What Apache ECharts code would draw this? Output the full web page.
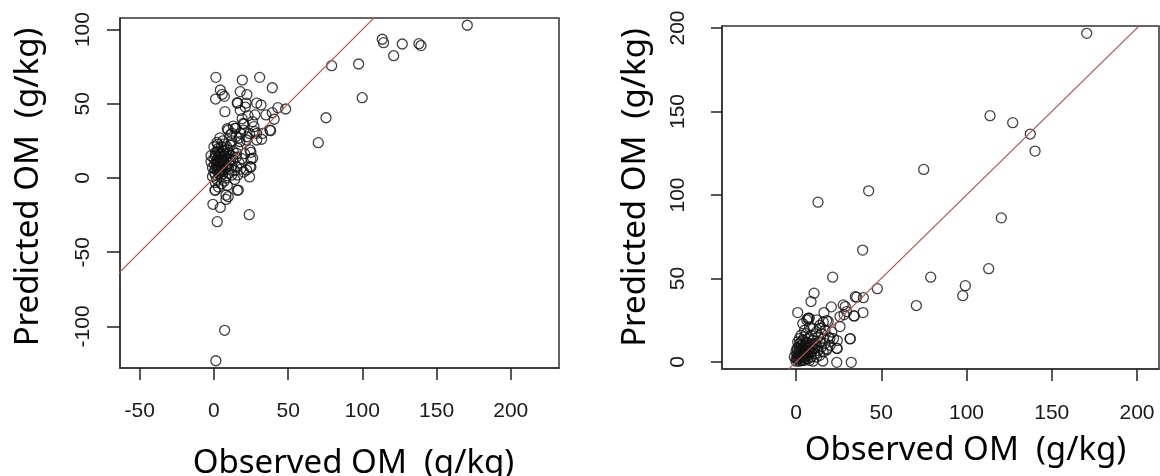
<!DOCTYPE html>
<html>
<head>
<meta charset="utf-8">
<title>Observed vs Predicted OM</title>
<script src="https://cdn.jsdelivr.net/npm/echarts@6/dist/echarts.min.js"></script>
<style>
    html, body { margin: 0; padding: 0; background: #fff; }
    #mychart { width: 1160px; height: 476px; }
</style>
</head>
<body>
<div id="mychart"></div>
<script>
// left panel: observed vs predicted (x, y)
var leftPoints = [
    [170.7,102.9],[113.4,93.5],[114.3,91.2],[126.9,90.3],[138.1,90.5],[139.5,89.2],[121.1,82.4],
    [79.3,75.7],[97.5,76.8],[99.9,54.1],[75.5,40.6],[70.3,23.8],[7.2,-102.6],[1.3,-123.1],
    [23.8,-24.7],[2.2,-29.4],[-0.7,-17.7],[4.3,-19.8],[8.1,-14.4],[8.1,-11.5],[15.7,-8.3],[0.9,-8.3],
    [24,0.7],[24.9,7.4],[24.9,12.8],[24.9,17.3],[20.7,16.4],[1.3,67.8],[19.1,66],[30.8,67.8],
    [39.3,60.8],[4.3,59.3],[1.1,53.2],[7,55],[5.6,56.4],[17.7,58.2],[22.2,56.2],[7.4,44.7],
    [15.7,50.5],[21.1,47.8],[21.6,50.5],[17.7,45.6],[28.8,50.5],[31.7,49.2],[27.6,42.5],[35,42.5],
    [39.3,44],[43.1,47.4],[48.3,46.5],[40.6,39.6],[38.2,31.9],[32.8,30.1],[28.8,30.1],[28.8,25.6],
    [32.1,26.1],[27,34.6],[20.2,36.4],[20,32.3],[14.8,33.5],[9,33.2],[12.1,30.1],[22.2,27.8],
    [17.5,24.5],[2.5,22.7],[8.6,21.1],[15.3,16.6],[16,50.7],[9.6,32.3],[14.2,33.5],[19.7,36.8],
    [27.6,31.2],[37.7,32.3],[22,25.6],[24.3,18.9],[26.1,13.3],[24.3,7.6],[16.4,-8.1],[9.6,-12.6],
    [0.7,-8.1],[15.3,7.6],[22,5.4],
    [1,2],[2,5],[3,8],[4,10],[5,12],[6,9],[7,11],[3,14],[2,12],[4,16],[6,18],[5,6],[8,7],[9,13],
    [10,10],[11,15],[12,8],[13,12],[14,5],[15,14],[16,20],[1,15],[2,18],[3,20],[5,21],[7,23],
    [9,19],[11,22],[13,18],[12,25],[0.5,9],[1.5,11],[2.5,7],[3.5,3],[4.5,1],[6,3],[7,-2],[8,0],
    [10,3],[12,2],[14,-1],[5,-4],[3,-6],[9,-5],[16,2],[18,6],[17,10],[19,13],[20,4],[6,14],
    [8,16],[4,6],[7,8],[10,17],[1,6],[2,-1],[0,4],[6,25],[15,28],[18,30],[11,29],[4,27],
    [13,35],[19,40],[23,42],[26,38],[24,30],[17,27],
    [-1,7],[-2,11],[0,13],[1,17],[3,11],[4,4],[5,8],[6,5],[7,15],[8,12],[9,8],[10,6],
    [2,9],[4,13],[6,11],[3,17],[5,16],[-1,1],[1,-3],[11,12],[7,19],[2,24],[0,21],[-2,15]
];

// right panel: observed vs predicted (x, y)
var rightPoints = [
    [170.5,196.8],[113.8,147.5],[127.1,143.3],[137.4,136.5],[140.2,126.3],[74.9,115.3],[42.6,102.5],
    [12.9,95.7],[120.4,86.3],[39.1,67],[21.5,50.8],[79,50.8],[113,55.9],[99.3,45.7],[97.8,39.7],
    [70.6,33.8],[47.7,43.9],[10.6,41.2],[8.8,36.2],[1,29.6],[39.5,38.5],[34.8,39.1],[39.3,29.6],
    [32.4,-0.2],[23.9,-0.2],[15.7,0.6],[31.8,14],[20.7,33],[16.4,29.6],[28.9,33.2],[6.3,25.2],
    [7.8,26.2],[34,27.6],[28.2,28.4],[18,24.8],[24.2,12.8],[24.2,8],[7.2,26.2],[27.7,34.2],
    [35.6,38.8],[34.2,27.6],[25.8,21.2],[31.7,13.8],[23.9,8.2],[18,7.2],[19.9,14.2],[14.1,20.2],
    [12.1,25.2],[18.9,24.2],[29.7,30.2],[25.8,27.2],
    [1,2],[2,4],[3,1],[4,3],[5,5],[6,7],[7,4],[8,6],[9,9],[10,8],[11,11],[12,10],[3,6],[4,8],
    [2,9],[5,10],[6,12],[7,14],[8,11],[9,16],[10,13],[13,15],[14,12],[15,17],[16,14],[17,19],
    [1,5],[2,7],[3,10],[4,13],[5,15],[6,17],[3,3],[5,1],[7,2],[9,3],[11,5],[13,7],[15,9],[17,11],
    [0,0.5],[1,1],[2,2],[6,2],[8,1],[10,0.5],[12,3],[14,4],[16,6],[18,8],[20,10],[19,15],[21,18],
    [22,14],[12,18],[10,20],[8,21],[5,19],[4,23],[7,26],[14,22],[16,24],[3,16],[1,12],[0.5,8],[2,14],
    [-1,3],[0,6],[1,8],[2,11],[3,8],[4,5],[5,3],[6,4],[7,7],[8,9],[4,1],[2,0.5],[6,9],[5,7],
    [3,12],[9,6],[10,11],[11,8],[1,3.5],[0,2]
];

// 1:1 reference line end points
var oneToOne = [[-300,-300],[300,300]];

var leftXTicks = [-50,0,50,100,150,200];
var leftYTicks = [-100,-50,0,50,100];
var rightXTicks = [0,50,100,150,200];
var rightYTicks = [0,50,100,150,200];

var leftXRange = [-63.3, 232.5];
var leftYRange = [-128, 107.8];
var rightXRange = [-43.4, 212.9];
var rightYRange = [-4.2, 201.2];

var myChart = echarts.init(document.getElementById('mychart'));

var tickFont = { fontFamily: 'Liberation Sans, Arial, sans-serif', fontSize: 21, color: '#1a1a1a' };
var titleFont = { fontFamily: 'Noto Sans, Open Sans, sans-serif', fontSize: 33, color: '#000' };

// axis that carries the data and the title
function nameAxis(gridIndex, range, isY, nameGap, shift) {
    return {
        type: 'value',
        gridIndex: gridIndex,
        position: isY ? 'left' : 'bottom',
        min: range[0],
        max: range[1],
        name: isY ? 'Predicted OM  (g/kg)' : 'Observed OM  (g/kg)',
        nameLocation: 'middle',
        nameGap: nameGap,
        nameRotate: isY ? 90 : 0,
        nameTextStyle: Object.assign({ padding: [0, 0, 0, shift * 2] }, titleFont),
        axisLine: { show: false, onZero: false },
        axisTick: { show: false },
        axisLabel: { show: false },
        splitLine: { show: false }
    };
}

// second axis on the same range, only for ticks and tick labels
function tickAxis(gridIndex, range, ticks, isY, margin, tickLen) {
    return {
        type: 'value',
        gridIndex: gridIndex,
        position: isY ? 'left' : 'bottom',
        min: range[0],
        max: range[1],
        axisLine: { show: true, onZero: false, lineStyle: { color: '#333', width: 1.5 } },
        axisTick: { show: true, length: tickLen, customValues: ticks, lineStyle: { color: '#222', width: 1.5 } },
        axisLabel: Object.assign({ customValues: ticks, margin: margin, rotate: isY ? 90 : 0 }, tickFont),
        splitLine: { show: false }
    };
}

function scatterSeries(idx, data) {
    return {
        type: 'scatter',
        xAxisIndex: idx,
        yAxisIndex: idx,
        data: data,
        symbol: 'circle',
        symbolSize: 10,
        silent: true,
        itemStyle: { color: 'rgba(0,0,0,0)', borderColor: '#111', borderWidth: 1.3 }
    };
}

function lineSeries(idx) {
    return {
        type: 'line',
        xAxisIndex: idx,
        yAxisIndex: idx,
        data: oneToOne,
        showSymbol: false,
        silent: true,
        clip: true,
        lineStyle: { color: '#b25c58', width: 1.2 }
    };
}

var option = {
    animation: false,
    grid: [
        { left: 120, top: 18, width: 439, height: 350, show: true, borderColor: '#333', borderWidth: 1.5,
          outerBoundsMode: 'none' },
        { left: 722, top: 26, width: 437, height: 343, show: true, borderColor: '#333', borderWidth: 1.5,
          outerBoundsMode: 'none' }
    ],
    xAxis: [
        nameAxis(0, leftXRange, false, 79, 14),
        nameAxis(1, rightXRange, false, 65, 25),
        tickAxis(0, leftXRange, leftXTicks, false, 33, 12),
        tickAxis(1, rightXRange, rightXTicks, false, 34, 12)
    ],
    yAxis: [
        nameAxis(0, leftYRange, true, 75, 6),
        nameAxis(1, rightYRange, true, 70, 10),
        tickAxis(0, leftYRange, leftYTicks, true, 26, 13),
        tickAxis(1, rightYRange, rightYTicks, true, 33, 11)
    ],
    series: [
        lineSeries(0),
        scatterSeries(0, leftPoints),
        lineSeries(1),
        scatterSeries(1, rightPoints)
    ]
};

myChart.setOption(option);
</script>
</body>
</html>
